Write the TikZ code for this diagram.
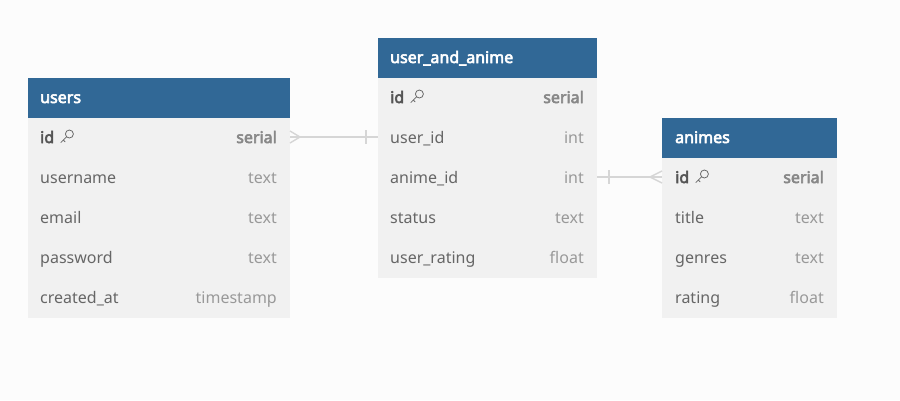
\documentclass[tikz,border=0pt]{standalone}
\usepackage{fontspec}
\usetikzlibrary{calc}
\setmainfont{Noto Sans}[BoldFont={Noto Sans},BoldFeatures={FakeBold=3.5}]
\definecolor{hdr}{HTML}{316896}
\definecolor{rowbg}{HTML}{F1F1F1}
\definecolor{bgc}{HTML}{FCFCFC}
\definecolor{namec}{HTML}{666666}
\definecolor{typec}{HTML}{999999}
\definecolor{idc}{HTML}{555555}
\definecolor{idtc}{HTML}{888888}
\definecolor{keyc}{HTML}{6A6A6A}
\definecolor{linec}{HTML}{D6D6D6}
\tikzset{
  hdrtext/.style={anchor=base west,text=white,font=\fontsize{16}{19}\selectfont\bfseries,inner sep=0},
  fname/.style={anchor=base west,text=namec,font=\fontsize{16}{19}\selectfont,inner sep=0},
  ftype/.style={anchor=base east,text=typec,font=\fontsize{16}{19}\selectfont,inner sep=0},
  fidname/.style={anchor=base west,text=idc,font=\fontsize{16}{19}\selectfont\bfseries,inner sep=0},
  fidtype/.style={anchor=base east,text=idtc,font=\fontsize{16}{19}\selectfont\bfseries,inner sep=0},
  conn/.style={draw=linec,line width=1.4pt},
  keyic/.style={draw=keyc,line width=0.8pt,line cap=round,line join=round}
}
\newcommand{\keyicon}[1]{%
  \begin{scope}[shift={(#1)}]
    \draw[keyic] (3.4,-3.0) circle (4.0);
    \draw[keyic] (0.6,-0.2) -- (-5.2,5.6);
    \draw[keyic] (-2.7,3.1) -- (-0.9,4.9);
  \end{scope}}
\begin{document}
\begin{tikzpicture}[x=1pt,y=-1pt]
\fill[bgc] (0,0) rectangle (900,400);
\useasboundingbox (0,0) rectangle (900,400);
% users
\fill[hdr] (28,78) rectangle (290,118);
\fill[rowbg] (28,118) rectangle (290,318);
\node[hdrtext] (uT) at (40,103) {users};
\node[fidname] (uid) at (40,143) {id};
\keyicon{66,137}
\node[fidtype] (uidt) at (277,143) {serial};
\node[fname] (uun) at (40,183) {username};
\node[ftype] (uunt) at (277,183) {text};
\node[fname] (uem) at (40,223) {email};
\node[ftype] (uemt) at (277,223) {text};
\node[fname] (upw) at (40,263) {password};
\node[ftype] (upwt) at (277,263) {text};
\node[fname] (uca) at (40,303) {created\_at};
\node[ftype] (ucat) at (277,303) {timestamp};
\coordinate (uR) at (290,137);
% user_and_anime
\fill[hdr] (378,38) rectangle (597,78);
\fill[rowbg] (378,78) rectangle (597,278);
\node[hdrtext] (aT) at (390,63) {user\_and\_anime};
\node[fidname] (aid) at (390,103) {id};
\keyicon{416,97}
\node[fidtype] (aidt) at (584,103) {serial};
\node[fname] (auid) at (390,143) {user\_id};
\node[ftype] (auidt) at (584,143) {int};
\node[fname] (aaid) at (390,183) {anime\_id};
\node[ftype] (aaidt) at (584,183) {int};
\node[fname] (ast) at (390,223) {status};
\node[ftype] (astt) at (584,223) {text};
\node[fname] (aur) at (390,263) {user\_rating};
\node[ftype] (aurt) at (584,263) {float};
\coordinate (aL) at (378,137);
\coordinate (aR) at (597,177);
% animes
\fill[hdr] (662,118) rectangle (837,158);
\fill[rowbg] (662,158) rectangle (837,318);
\node[hdrtext] (nT) at (675,143) {animes};
\node[fidname] (nid) at (675,183) {id};
\keyicon{701,177}
\node[fidtype] (nidt) at (824,183) {serial};
\node[fname] (nti) at (675,223) {title};
\node[ftype] (ntit) at (824,223) {text};
\node[fname] (nge) at (675,263) {genres};
\node[ftype] (nget) at (824,263) {text};
\node[fname] (nra) at (675,303) {rating};
\node[ftype] (nrat) at (824,303) {float};
\coordinate (nL) at (662,177);
% connector 1: users.id >---| user_and_anime.user_id
\draw[conn] (uR) -- (aL);
\draw[conn] ($(uR)+(0,-6)$) -- ($(uR)+(10,0)$) -- ($(uR)+(0,6)$);
\draw[conn] ($(aL)+(-12,-7)$) -- ($(aL)+(-12,7)$);
% connector 2: user_and_anime.anime_id |---< animes.id
\draw[conn] (aR) -- (nL);
\draw[conn] ($(aR)+(12,-7)$) -- ($(aR)+(12,7)$);
\draw[conn] ($(nL)+(0,-6)$) -- ($(nL)+(-12,0)$) -- ($(nL)+(0,6)$);
\end{tikzpicture}
\end{document}
